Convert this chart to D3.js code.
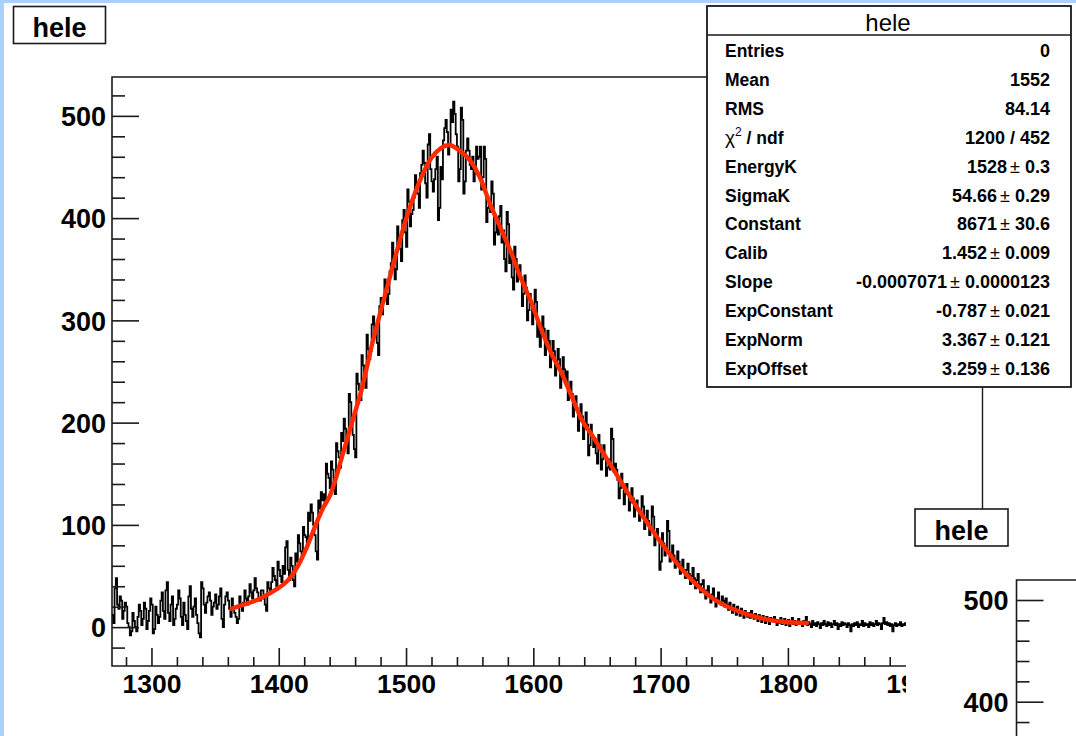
<!DOCTYPE html>
<html>
<head>
<meta charset="utf-8">
<script src="https://cdn.jsdelivr.net/npm/d3@7"></script>
<style>
  body { margin: 0; background: #fff; }
  svg { display: block; }
  text { font-family: "Liberation Sans", Arial, Helvetica, sans-serif; fill: #000; }
</style>
</head>
<body>
<svg id="canvas" width="1076" height="736"></svg>
<script>
// Histogram "hele": 1-unit bins starting at 1269, 20 bins per row
const binStart = 1269;
const binWidth = 1;
const counts = [
  12, 4, 38, 48, 22, 18, 30, 26, 8, 16, 24, 20, 4, 0, -8, -4, 14, 6, 0, -4,
  10, 22, 16, 2, 8, 24, 18, -2, 6, 16, 28, 22, -6, -2, 20, 12, 4, 10, 26, 34,
  16, 8, 36, 44, 14, 6, 22, 30, 2, 8, 18, 22, 36, 28, 10, 2, 24, 12, 6, -2,
  30, 40, 18, 10, 20, 28, 12, 4, -6, -10, 44, 38, 22, 14, 24, 30, 34, 26, 12, 20,
  24, 32, 18, 22, 30, 38, 8, 0, 22, 30, 34, 26, 18, 10, 28, 20, 14, 10, 4, 8,
  30, 22, 16, 24, 36, 28, 22, 30, 42, 34, 28, 36, 48, 38, 34, 26, 26, 36, 36, 28,
  22, 16, 44, 38, 36, 44, 58, 50, 46, 40, 64, 56, 50, 44, 60, 52, 78, 84, 56, 46,
  68, 60, 46, 40, 72, 64, 90, 82, 74, 68, 98, 90, 88, 78, 112, 104, 120, 112, 100, 90,
  74, 66, 124, 116, 132, 124, 130, 122, 160, 150, 146, 136, 162, 154, 138, 130, 180, 172, 166, 156,
  190, 182, 204, 194, 180, 170, 228, 220, 198, 188, 174, 166, 248, 238, 232, 222, 266, 256, 244, 234,
  286, 272, 262, 270, 296, 304, 284, 292, 278, 266, 314, 322, 306, 318, 340, 328, 316, 326, 348, 356,
  376, 362, 340, 350, 392, 380, 370, 358, 398, 408, 386, 372, 428, 416, 392, 404, 408, 420, 442, 430,
  424, 410, 444, 452, 466, 454, 434, 420, 472, 482, 448, 436, 426, 438, 448, 460, 398, 410, 450, 438,
  476, 488, 496, 484, 462, 472, 506, 494, 514, 502, 482, 470, 436, 448, 508, 496, 424, 436, 466, 478,
  466, 452, 448, 460, 436, 444, 470, 458, 460, 470, 428, 440, 470, 458, 396, 410, 418, 406, 436, 424,
  374, 386, 396, 384, 402, 412, 376, 388, 360, 348, 406, 394, 356, 366, 342, 330, 372, 360, 338, 348,
  354, 342, 314, 326, 344, 332, 300, 310, 326, 316, 296, 306, 330, 318, 284, 294, 274, 286, 304, 292,
  266, 278, 290, 280, 254, 264, 280, 270, 246, 256, 272, 262, 234, 244, 264, 252, 240, 250, 222, 232,
  240, 228, 206, 216, 226, 214, 192, 202, 218, 206, 184, 194, 210, 198, 168, 178, 198, 188, 176, 184,
  170, 160, 188, 178, 154, 164, 178, 168, 148, 156, 164, 154, 194, 184, 152, 160, 154, 144, 126, 136,
  150, 140, 120, 130, 140, 130, 114, 122, 136, 126, 108, 116, 124, 114, 104, 112, 128, 118, 96, 104,
  114, 104, 90, 98, 118, 108, 80, 88, 96, 86, 56, 64, 92, 82, 70, 78, 104, 94, 64, 72,
  80, 70, 58, 66, 74, 64, 52, 60, 66, 56, 48, 56, 62, 52, 42, 50, 58, 48, 38, 46,
  52, 42, 34, 42, 46, 36, 28, 36, 40, 30, 24, 32, 38, 28, 20, 28, 34, 24, 22, 30,
  26, 20, 28, 22, 17, 24, 19, 14, 22, 18, 12, 20, 16, 11, 18, 14, 9, 16, 13, 10,
  14, 9, 16, 11, 8, 13, 10, 6, 12, 9, 5, 11, 8, 4, 10, 7, 3, 9, 6, 8,
  10, 6, 2, 7, 4, 9, 3, 5, 8, 2, 4, 7, 1, 5, 9, 3, 6, 2, 4, 8,
  3, 5, 1, 6, 4, 10, 2, 5, 3, 0, 6, 2, 4, 1, 5, 3, -1, 4, 2, 6,
  3, 1, 5, 2, 4, 0, 3, 6, 2, 4, -2, 3, 1, 5, 2, 4, 3, 0, 4, 2,
  -4, 3, 1, 4, 2, 5, 0, 3, 2, 6, 1, 4, 2, 3, 0, 5, 2, 4, 1, 3,
  6, 2, 4, 3, -2, 4, 9, 3, 5, 2, 4, 1, 3, -4, 2, 4, 1, 3, 2, 5,
  1, 3, 2, 4
];

// Fitted function, sampled along its drawn range
const fitX = [1363, 1370, 1382, 1390, 1398, 1404, 1410, 1416, 1422, 1430, 1435, 1440, 1445, 1450, 1458, 1465,
              1474, 1482, 1490, 1500, 1510, 1520, 1527, 1534, 1542, 1550, 1558, 1566, 1574, 1582, 1590, 1598,
              1606, 1614, 1622, 1630, 1638, 1647, 1663, 1681, 1699, 1720, 1741, 1767, 1791, 1815];
const fitY = [18, 21, 26, 31, 37, 42, 50, 62, 78, 103, 117, 128, 146, 168, 202, 232,
              280, 318, 355, 399, 434, 459, 468, 471.5, 466, 457, 440, 414, 391, 368, 342, 319,
              292, 268, 249, 226, 203, 186, 154, 118, 85, 52, 28, 13, 6, 4];

const yMajor = [0, 100, 200, 300, 400, 500];
const yMinor = [-20, 20, 40, 60, 80, 120, 140, 160, 180, 220, 240, 260, 280, 320, 340, 360, 380, 420, 440, 460, 480, 520];
const xMajor = [1300, 1400, 1500, 1600, 1700, 1800, 1900];
const xMinor = [1280, 1320, 1340, 1360, 1380, 1420, 1440, 1460, 1480, 1520, 1540, 1560, 1580,
                1620, 1640, 1660, 1680, 1720, 1740, 1760, 1780, 1820, 1840, 1860, 1880];

// Second pad's y axis
const y2Major = [400, 500];
const y2Minor = [380, 420, 440, 460, 480];

// Statistics / fit-parameter box
const statNames = ["Entries", "Mean", "RMS", "chi2", "EnergyK", "SigmaK", "Constant", "Calib", "Slope", "ExpConstant", "ExpNorm", "ExpOffset"];
const statValues = ["0", "1552", "84.14", "1200 / 452", "1528", "54.66", "8671", "1.452", "-0.0007071", "-0.787", "3.367", "3.259"];
const statErrors = [null, null, null, null, "0.3", "0.29", "30.6", "0.009", "0.0000123", "0.021", "0.121", "0.136"];

const svg = d3.select("#canvas");
const ink = "#1a1a1a";

// canvas background with the blue window edge
svg.append("rect").attr("width", 1076).attr("height", 736).attr("fill", "#fff");
svg.append("rect").attr("x", 0).attr("y", 0).attr("width", 1076).attr("height", 3).attr("fill", "#a8d1fb");
svg.append("rect").attr("x", 0).attr("y", 0).attr("width", 4).attr("height", 736).attr("fill", "#a8d1fb");

const x = d3.scaleLinear().domain([1269, 1892]).range([112, 905]);
const y = d3.scaleLinear().domain([-38, 538]).range([666, 77]);

const defs = svg.append("defs");
defs.append("clipPath").attr("id", "frameClip")
  .append("rect").attr("x", 112).attr("y", 77).attr("width", 794).attr("height", 589);
defs.append("clipPath").attr("id", "padClip")
  .append("rect").attr("x", 0).attr("y", 0).attr("width", 906).attr("height", 736);

// frame (right edge lies beyond the pad boundary)
svg.append("path")
  .attr("d", `M906,77H112V666H906`)
  .attr("fill", "none").attr("stroke", ink).attr("stroke-width", 1.6);

// histogram drawn as steps
const pts = counts.map((v, i) => [binStart + i * binWidth, v]);
pts.push([binStart + counts.length * binWidth, counts[counts.length - 1]]);
svg.append("path")
  .attr("clip-path", "url(#frameClip)")
  .attr("d", d3.line().x(d => x(d[0])).y(d => y(d[1])).curve(d3.curveStepAfter)(pts))
  .attr("fill", "none").attr("stroke", "#000").attr("stroke-width", 1.8);

// fit curve
svg.append("path")
  .attr("clip-path", "url(#frameClip)")
  .attr("d", d3.line().x((d, i) => x(fitX[i])).y(d => y(d)).curve(d3.curveMonotoneX)(fitY))
  .attr("fill", "none").attr("stroke", "#ff2a00").attr("stroke-width", 4.4)
  .attr("stroke-linecap", "round").attr("stroke-linejoin", "round");

function styleAxis(g, size) {
  g.select(".domain").remove();
  g.selectAll(".tick line").attr("stroke", ink).attr("stroke-width", 1.6);
  g.selectAll(".tick text").attr("font-size", size).attr("font-weight", "bold")
    .attr("font-family", "'Liberation Sans', Arial, sans-serif").attr("fill", "#000");
}

// y axis
svg.append("g").attr("transform", "translate(112,0)")
  .call(d3.axisLeft(y).tickValues(yMajor).tickSize(-27).tickPadding(6).tickFormat(d3.format("d")))
  .call(styleAxis, 27)
  .selectAll(".tick text").attr("dy", "0.36em");
svg.append("g").attr("transform", "translate(112,0)")
  .call(d3.axisLeft(y).tickValues(yMinor).tickSize(-13).tickFormat(""))
  .call(styleAxis, 27);

// x axis
const xg = svg.append("g").attr("clip-path", "url(#padClip)");
xg.append("g").attr("transform", "translate(0,666)")
  .call(d3.axisBottom(x).tickValues(xMajor).tickSize(-18).tickPadding(8).tickFormat(d3.format("d")))
  .call(styleAxis, 26.5);
xg.append("g").attr("transform", "translate(0,666)")
  .call(d3.axisBottom(x).tickValues(xMinor).tickSize(-9).tickFormat(""))
  .call(styleAxis, 26.5);

// title box
function titleBox(x0, y0, w, h, label, base) {
  svg.append("rect").attr("x", x0).attr("y", y0).attr("width", w).attr("height", h)
    .attr("fill", "#fff").attr("stroke", ink).attr("stroke-width", 1.6);
  svg.append("text").attr("x", x0 + w / 2).attr("y", base).attr("text-anchor", "middle")
    .attr("font-size", 27).attr("font-weight", "bold").text(label);
}
titleBox(13.5, 6.5, 92, 37, "hele", 36.5);

// second pad
svg.append("line").attr("x1", 982.5).attr("x2", 982.5).attr("y1", 387).attr("y2", 509)
  .attr("stroke", ink).attr("stroke-width", 1.4);
titleBox(915, 509, 93, 37, "hele", 539.5);

const y2 = d3.scaleLinear().domain([400, 500]).range([701.7, 600]);
svg.append("path").attr("d", "M1076,580H1016.5V736").attr("fill", "none").attr("stroke", ink).attr("stroke-width", 1.6);
svg.append("g").attr("transform", "translate(1016.5,0)")
  .call(d3.axisLeft(y2).tickValues(y2Major).tickSize(-27).tickPadding(8).tickFormat(d3.format("d")))
  .call(styleAxis, 27)
  .selectAll(".tick text").attr("dy", "0.36em");
svg.append("g").attr("transform", "translate(1016.5,0)")
  .call(d3.axisLeft(y2).tickValues(y2Minor).tickSize(-13).tickFormat(""))
  .call(styleAxis, 27);

// statistics box
const sb = { x: 707, y: 6, w: 364, h: 381, head: 29 };
svg.append("rect").attr("x", sb.x).attr("y", sb.y).attr("width", sb.w).attr("height", sb.h)
  .attr("fill", "#fff").attr("stroke", ink).attr("stroke-width", 1.8);
svg.append("line").attr("x1", sb.x).attr("x2", sb.x + sb.w).attr("y1", sb.y + sb.head).attr("y2", sb.y + sb.head)
  .attr("stroke", ink).attr("stroke-width", 1.6);
svg.append("text").attr("x", sb.x + sb.w / 2 - 1).attr("y", 31).attr("text-anchor", "middle")
  .attr("font-size", 24).text("hele");

const rowY = i => 57 + i * 28.9;
statNames.forEach((name, i) => {
  const t = svg.append("text").attr("x", 725).attr("y", rowY(i)).attr("font-size", 17.5).attr("font-weight", "bold");
  if (name === "chi2") {
    t.append("tspan").attr("font-weight", "normal").attr("font-size", 19).text("χ");
    t.append("tspan").attr("font-size", 12).attr("dy", -8).attr("font-weight", "normal").text("2");
    t.append("tspan").attr("dy", 8).text(" / ndf");
  } else {
    t.text(name);
  }
  const v = svg.append("text").attr("x", 1050).attr("y", rowY(i)).attr("text-anchor", "end")
    .attr("font-size", 18).attr("font-weight", "bold");
  v.append("tspan").text(statValues[i]);
  if (statErrors[i] !== null) {
    v.append("tspan").attr("font-weight", "normal").attr("dx", 3).text("±");
    v.append("tspan").text(" " + statErrors[i]);
  }
});
</script>
</body>
</html>
